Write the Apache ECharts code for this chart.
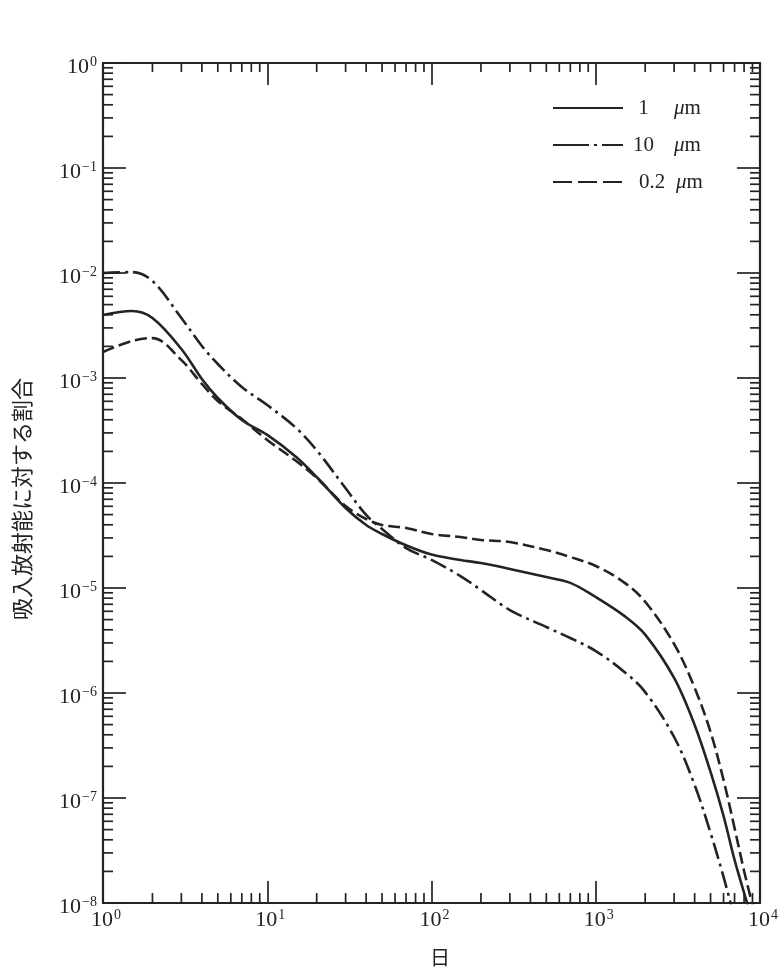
<!DOCTYPE html>
<html><head><meta charset="utf-8">
<script src="https://cdn.jsdelivr.net/npm/echarts@6/dist/echarts.min.js"></script>
<style>html,body{margin:0;padding:0;background:#fff}#c{width:783px;height:974px}</style>
</head><body><div id="c"></div>
<script>
// ---- data ----
const days = [1, 1.5, 2, 3, 4, 5, 7, 10, 15, 20, 30, 40, 50, 70, 100, 150, 200, 300, 500, 700,
  1000, 1500, 2000, 3000, 4000, 5000, 6000, 7000, 8000, 9000];
const frac1um = [3.98e-3, 4.35e-3, 3.73e-3, 1.89e-3, 9.78e-4, 6.45e-4, 3.98e-4, 2.87e-4, 1.77e-4, 1.14e-4,
  5.78e-5, 3.98e-5, 3.27e-5, 2.55e-5, 2.08e-5, 1.85e-5, 1.73e-5, 1.52e-5, 1.27e-5, 1.12e-5,
  8.21e-6, 5.4e-6, 3.6e-6, 1.39e-6, 4.96e-7, 1.77e-7, 6.74e-8, 2.57e-8, 1.25e-8, 6.7e-9];
const frac10um = [1.0e-2, 1.02e-2, 8.39e-3, 3.73e-3, 2.02e-3, 1.36e-3, 8.21e-4, 5.53e-4, 3.34e-4, 2.05e-4,
  8.9e-5, 4.96e-5, 3.65e-5, 2.40e-5, 1.85e-5, 1.30e-5, 9.57e-6, 6.17e-6, 4.25e-6, 3.34e-6,
  2.51e-6, 1.58e-6, 1.02e-6, 3.81e-7, 1.33e-7, 4.64e-8, 1.77e-8, 7.2e-9, null, null];
const frac02um = [1.77e-3, 2.25e-3, 2.40e-3, 1.48e-3, 8.77e-4, 6.04e-4, 4.07e-4, 2.57e-4, 1.62e-4, 1.12e-4,
  6.04e-5, 4.54e-5, 3.98e-5, 3.73e-5, 3.27e-5, 3.06e-5, 2.87e-5, 2.74e-5, 2.30e-5, 1.97e-5,
  1.62e-5, 1.12e-5, 7.4e-6, 2.93e-6, 1.12e-6, 4.25e-7, 1.48e-7, 5.18e-8, 2.02e-8, 9.57e-9];
const seriesNames = ['1 μm', '10 μm', '0.2 μm'];
const xDecades = [1, 10, 100, 1000];          // minor ticks at 2..9 × decade
const yDecades = [1e-8, 1e-7, 1e-6, 1e-5, 1e-4, 1e-3, 1e-2, 1e-1];
const minorMultipliers = [2, 3, 4, 5, 6, 7, 8, 9];
const X_MIN = 1, X_MAX = 1e4, Y_MIN = 1e-8, Y_MAX = 1;
const xLabel = '日';
const yLabel = '吸入放射能に対する割合';

// ---- build ----
const INK = '#232323';
const SERIF = '"Liberation Serif", "DejaVu Serif", serif';
const CJK = '"Noto Sans CJK JP", sans-serif';
const pairs = (vals) => days.map((d, i) => [d, vals[i]]).filter(p => p[1] != null);
const minorX = [];
xDecades.forEach(d => minorMultipliers.forEach(m => minorX.push([m * d, Y_MIN])));
const minorY = [];
yDecades.forEach(d => minorMultipliers.forEach(m => minorY.push([X_MIN, m * d])));

function expLabel(v) {
  const e = Math.round(Math.log10(v));
  return '{b|10}{s|' + (e < 0 ? '\u2212' + (-e) : e) + '}';
}
const labelRich = {
  b: {fontFamily: SERIF, fontSize: 22, color: INK, lineHeight: 24},
  s: {fontFamily: SERIF, fontSize: 14, color: INK, verticalAlign: 'top', lineHeight: 24, padding: [0, 0, 8, 1]}
};
const axisLineStyle = {color: INK, width: 2.2};
function xAxisDef(pos, showLabel) {
  return {
    type: 'log', logBase: 10, min: X_MIN, max: X_MAX, position: pos,
    axisLine: {show: true, onZero: false, lineStyle: axisLineStyle},
    axisTick: {show: true, inside: true, length: 22, lineStyle: {color: INK, width: 1.7}},
    axisLabel: {show: showLabel, margin: 5, formatter: expLabel, rich: labelRich, showMinLabel: true, showMaxLabel: true, hideOverlap: false, padding: [0, 0, 0, 6]},
    splitLine: {show: false}, minorTick: {show: false}, minorSplitLine: {show: false}
  };
}
function yAxisDef(pos, showLabel) {
  return {
    type: 'log', logBase: 10, min: Y_MIN, max: Y_MAX, position: pos,
    axisLine: {show: true, onZero: false, lineStyle: axisLineStyle},
    axisTick: {show: true, inside: true, length: 23, lineStyle: {color: INK, width: 1.7}},
    axisLabel: {show: showLabel, margin: 6, formatter: expLabel, rich: labelRich, showMinLabel: true, showMaxLabel: true, hideOverlap: false, padding: [8, 0, 0, 0]},
    splitLine: {show: false}, minorTick: {show: false}, minorSplitLine: {show: false}
  };
}
const tickStyle = {stroke: INK, lineWidth: 1.7};
const lineBase = {type: 'line', smooth: 0.35, showSymbol: false, symbol: 'none', clip: true, z: 3};

const legendRich = {
  n1: {fontFamily: SERIF, fontSize: 21, color: INK, width: 31, align: 'right'},
  n2: {fontFamily: SERIF, fontSize: 21, color: INK, width: 48, align: 'right'},
  mu1: {fontFamily: SERIF, fontSize: 21, color: INK, fontStyle: 'italic', padding: [0, 0, 0, 15]},
  mu2: {fontFamily: SERIF, fontSize: 21, color: INK, fontStyle: 'italic', padding: [0, 0, 0, 0]},
  m: {fontFamily: SERIF, fontSize: 21, color: INK}
};

const chart = echarts.init(document.getElementById('c'), null, {renderer: 'canvas'});
chart.setOption({
  animation: false,
  backgroundColor: '#fff',
  grid: {left: 103, top: 63, right: 23, bottom: 71, containLabel: false, outerBoundsMode: 'none'},
  xAxis: [xAxisDef('bottom', true), xAxisDef('top', false)],
  yAxis: [yAxisDef('left', true), yAxisDef('right', false)],
  legend: {
    orient: 'vertical', left: 547, top: 92, itemWidth: 70, itemHeight: 22, itemGap: 15,
    selectedMode: false,
    itemStyle: {opacity: 0},
    data: [
      {name: seriesNames[0]},
      {name: seriesNames[1], lineStyle: {type: [36, 5, 3, 5]}},
      {name: seriesNames[2], lineStyle: {type: [19, 6]}}
    ],
    textStyle: {fontFamily: SERIF, fontSize: 21, color: INK, lineHeight: 22, rich: legendRich},
    formatter: function (name) {
      const num = name.split(' ')[0];
      return num === '0.2' ? '{n2|' + num + '}{mu2|μ}{m|m}' : '{n1|' + num + '}{mu1|μ}{m|m}';
    }
  },
  graphic: [
    {type: 'text', x: 440, y: 957, style: {text: xLabel, fontFamily: CJK, fontSize: 20, fill: INK, align: 'center', verticalAlign: 'middle'}},
    {type: 'text', x: 22, y: 499, rotation: Math.PI / 2, style: {text: yLabel, fontFamily: CJK, fontSize: 22, fill: INK, align: 'center', verticalAlign: 'middle'}}
  ],
  series: [
    Object.assign({}, lineBase, {name: seriesNames[0], data: pairs(frac1um),
      lineStyle: {color: INK, width: 2.6, type: 'solid'}, itemStyle: {color: INK}}),
    Object.assign({}, lineBase, {name: seriesNames[1], data: pairs(frac10um),
      lineStyle: {color: INK, width: 2.6, type: [17, 5, 3, 5]}, itemStyle: {color: INK}}),
    Object.assign({}, lineBase, {name: seriesNames[2], data: pairs(frac02um),
      lineStyle: {color: INK, width: 2.6, type: [12, 5]}, itemStyle: {color: INK}}),
    {
      type: 'custom', silent: true, clip: false, z: 5, data: minorX,
      renderItem: function (params, api) {
        const v = api.value(0);
        const b = api.coord([v, Y_MIN]);
        const t = api.coord([v, Y_MAX]);
        return {type: 'group', children: [
          {type: 'line', shape: {x1: b[0], y1: b[1], x2: b[0], y2: b[1] - 10}, style: tickStyle},
          {type: 'line', shape: {x1: t[0], y1: t[1], x2: t[0], y2: t[1] + 9}, style: tickStyle}
        ]};
      }
    },
    {
      type: 'custom', silent: true, clip: false, z: 5, data: minorY,
      renderItem: function (params, api) {
        const v = api.value(1);
        const l = api.coord([X_MIN, v]);
        const r = api.coord([X_MAX, v]);
        return {type: 'group', children: [
          {type: 'line', shape: {x1: l[0], y1: l[1], x2: l[0] + 10, y2: l[1]}, style: tickStyle},
          {type: 'line', shape: {x1: r[0], y1: r[1], x2: r[0] - 10, y2: r[1]}, style: tickStyle}
        ]};
      }
    }
  ]
});
</script>
</body></html>
